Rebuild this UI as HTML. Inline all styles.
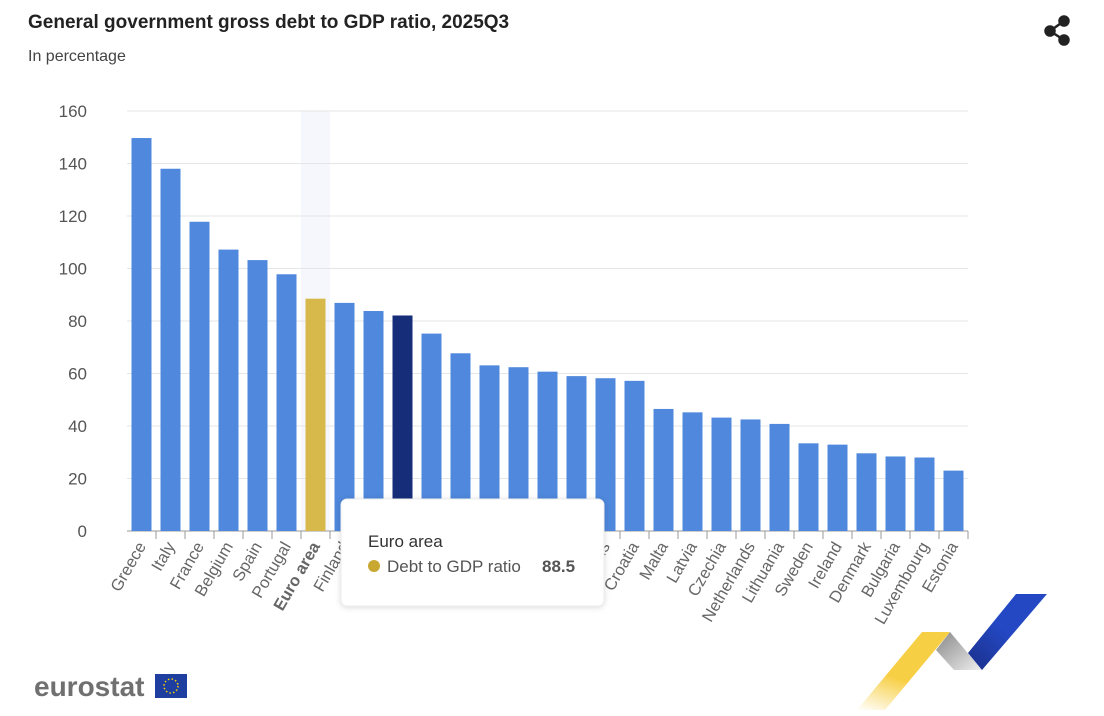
<!DOCTYPE html>
<html><head><meta charset="utf-8"><style>
body{margin:0;width:1104px;height:716px;background:#fff;font-family:"Liberation Sans",sans-serif;overflow:hidden;position:relative}
.t{position:absolute;left:28px;top:12px;font-size:19px;font-weight:bold;color:#222}
.s{position:absolute;left:28px;top:48px;font-size:16px;color:#444}
</style></head><body>
<div class="t">General government gross debt to GDP ratio, 2025Q3</div>
<div class="s">In percentage</div>
<svg width="1104" height="716" style="position:absolute;left:0;top:0" id="svg">
<g fill="#222" stroke="#222" stroke-width="2.5">
<circle cx="1064" cy="21" r="4.5"/><circle cx="1064" cy="40" r="4.5"/><circle cx="1050" cy="31" r="4.5"/>
<line x1="1064" y1="21" x2="1050" y2="31"/><line x1="1064" y1="40" x2="1050" y2="31"/></g>
<g id="grid"></g><g id="bars"></g><g id="xl"></g>
<defs><linearGradient id="gy" x1="0" y1="1" x2="0.4" y2="0"><stop offset="0" stop-color="#fff"/><stop offset="0.5" stop-color="#f7cf45"/></linearGradient>
<linearGradient id="gg" x1="0" y1="0" x2="1" y2="1"><stop offset="0" stop-color="#888"/><stop offset="1" stop-color="#eee"/></linearGradient>
<linearGradient id="gb" x1="0" y1="1" x2="1" y2="0"><stop offset="0" stop-color="#1a2f8a"/><stop offset="0.5" stop-color="#2448c4"/></linearGradient></defs>
<g>
<polygon points="857,710 922,632 950,632 885,710" fill="url(#gy)"/>
<polygon points="936,650 950,632 982,670 954,670" fill="url(#gg)"/>
<polygon points="968,653 1016,594 1047,594 982,670" fill="url(#gb)"/></g>
<text x="34" y="696" font-size="28" font-weight="bold" fill="#707070">eurostat</text>
<rect x="155" y="674" width="32" height="24" fill="#1f3fa0"/>
<circle cx="171" cy="686" r="7" fill="none" stroke="#f5d000" stroke-width="1.5" stroke-dasharray="1.5 2.2"/>
<g>
<rect x="341" y="499" width="263" height="107" rx="6" fill="#fff" stroke="#eee" style="filter:drop-shadow(0 1px 3px rgba(0,0,0,.15))"/>
<text x="368" y="547" font-size="17" fill="#333">Euro area</text>
<circle cx="374" cy="566" r="6" fill="#c9a832"/>
<text x="387" y="572" font-size="17" fill="#555">Debt to GDP ratio</text>
<text x="542" y="572" font-size="17" font-weight="bold" fill="#555">88.5</text></g>
</svg>
<script>
const categories=["Greece","Italy","France","Belgium","Spain","Portugal","Euro area","Finland","Austria","EU","Hungary","Slovenia","Germany","Poland","Slovakia","Romania","Cyprus","Croatia","Malta","Latvia","Czechia","Netherlands","Lithuania","Sweden","Ireland","Denmark","Bulgaria","Luxembourg","Estonia"];
const values=[149.7,138,117.8,107.2,103.2,97.8,88.5,86.9,83.8,82.1,75.2,67.7,63.1,62.4,60.7,59,58.2,57.2,46.5,45.2,43.2,42.5,40.8,33.4,32.9,29.6,28.4,28,23];
const ticks=[0,20,40,60,80,100,120,140,160];
const ns="http://www.w3.org/2000/svg";
const X0=127,X1=968,Y0=531,Y1=111,step=(X1-X0)/categories.length;
const y=v=>Y0-(v/160)*(Y0-Y1);
const xc=i=>X0+step*(i+0.5);
function mk(t,a,p){const e=document.createElementNS(ns,t);for(const k in a)e.setAttribute(k,a[k]);p.appendChild(e);return e;}
const grid=document.getElementById('grid'),bars=document.getElementById('bars'),xl=document.getElementById('xl');
const hi=categories.indexOf("Euro area");
const band=mk('rect',{x:X0+step*hi,y:Y1,width:step,height:Y0-Y1,fill:'#f5f7fc'},grid);


ticks.forEach(t=>{
 const l=mk('line',{x1:X0,x2:X1,y1:y(t),y2:y(t),stroke:t?'#e6e6e6':'#999'},grid);
 
 
 const tx=mk('text',{x:87,y:y(t)+6,'text-anchor':'end','font-size':17,fill:'#555'},grid);
 tx.textContent=t;
 
 
});
categories.forEach((c,i)=>{
 const col=c==="Euro area"?'#d6b94a':c==="EU"?'#162d7a':'#4f88dc';
 const r=mk('rect',{x:xc(i)-10,y:y(values[i]),width:20,height:Y0-y(values[i]),fill:col},bars);
 
 
 const tk=mk('line',{x1:X0+step*(i+1),x2:X0+step*(i+1),y1:Y0,y2:Y0+8,stroke:'#999'},xl);
 
 
 const t=mk('text',{x:xc(i)+5,y:Y0+15,'text-anchor':'end','font-size':16.5,fill:'#666','font-weight':c==="Euro area"?'bold':'normal',transform:`rotate(-60 ${xc(i)+5} ${Y0+15})`},xl);
 t.textContent=c;
 
 
});
</script>
</body></html>
